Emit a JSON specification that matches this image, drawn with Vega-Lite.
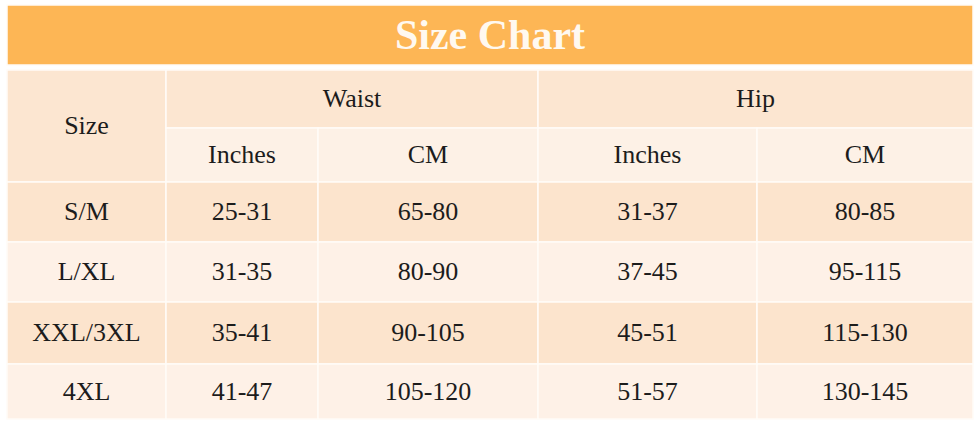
{
  "$schema": "https://vega.github.io/schema/vega-lite/v6.json",
  "width": 980,
  "height": 425,
  "autosize": {"type": "none"},
  "padding": 0,
  "background": "white",
  "config": {"view": {"stroke": null}},
  "data": {
    "values": [
      {"label": "Size Chart", "band": "title", "c0": 0, "c1": 5, "r0": 0, "r1": 1},
      {"label": "Size", "band": "header", "c0": 0, "c1": 1, "r0": 2, "r1": 4},
      {"label": "Waist", "band": "header", "c0": 1, "c1": 3, "r0": 2, "r1": 3},
      {"label": "Hip", "band": "header", "c0": 3, "c1": 5, "r0": 2, "r1": 3},
      {"label": "Inches", "band": "sub", "c0": 1, "c1": 2, "r0": 3, "r1": 4},
      {"label": "CM", "band": "sub", "c0": 2, "c1": 3, "r0": 3, "r1": 4},
      {"label": "Inches", "band": "sub", "c0": 3, "c1": 4, "r0": 3, "r1": 4},
      {"label": "CM", "band": "sub", "c0": 4, "c1": 5, "r0": 3, "r1": 4},
      {"label": "S/M", "band": "odd", "c0": 0, "c1": 1, "r0": 4, "r1": 5},
      {"label": "25-31", "band": "odd", "c0": 1, "c1": 2, "r0": 4, "r1": 5},
      {"label": "65-80", "band": "odd", "c0": 2, "c1": 3, "r0": 4, "r1": 5},
      {"label": "31-37", "band": "odd", "c0": 3, "c1": 4, "r0": 4, "r1": 5},
      {"label": "80-85", "band": "odd", "c0": 4, "c1": 5, "r0": 4, "r1": 5},
      {"label": "L/XL", "band": "even", "c0": 0, "c1": 1, "r0": 5, "r1": 6},
      {"label": "31-35", "band": "even", "c0": 1, "c1": 2, "r0": 5, "r1": 6},
      {"label": "80-90", "band": "even", "c0": 2, "c1": 3, "r0": 5, "r1": 6},
      {"label": "37-45", "band": "even", "c0": 3, "c1": 4, "r0": 5, "r1": 6},
      {"label": "95-115", "band": "even", "c0": 4, "c1": 5, "r0": 5, "r1": 6},
      {"label": "XXL/3XL", "band": "odd", "c0": 0, "c1": 1, "r0": 6, "r1": 7},
      {"label": "35-41", "band": "odd", "c0": 1, "c1": 2, "r0": 6, "r1": 7},
      {"label": "90-105", "band": "odd", "c0": 2, "c1": 3, "r0": 6, "r1": 7},
      {"label": "45-51", "band": "odd", "c0": 3, "c1": 4, "r0": 6, "r1": 7},
      {"label": "115-130", "band": "odd", "c0": 4, "c1": 5, "r0": 6, "r1": 7},
      {"label": "4XL", "band": "even", "c0": 0, "c1": 1, "r0": 7, "r1": 8},
      {"label": "41-47", "band": "even", "c0": 1, "c1": 2, "r0": 7, "r1": 8},
      {"label": "105-120", "band": "even", "c0": 2, "c1": 3, "r0": 7, "r1": 8},
      {"label": "51-57", "band": "even", "c0": 3, "c1": 4, "r0": 7, "r1": 8},
      {"label": "130-145", "band": "even", "c0": 4, "c1": 5, "r0": 7, "r1": 8}
    ]
  },
  "layer": [
    {
      "mark": {"type": "rect", "stroke": "#FFFCF8", "strokeWidth": 1.5},
      "encoding": {
        "x": {
          "field": "c0",
          "type": "quantitative",
          "axis": null,
          "scale": {"domain": [0, 1, 2, 3, 4, 5], "range": [7, 166, 318, 538, 757, 973], "nice": false, "zero": false}
        },
        "x2": {"field": "c1"},
        "y": {
          "field": "r0",
          "type": "quantitative",
          "axis": null,
          "scale": {"domain": [0, 1, 2, 3, 4, 5, 6, 7, 8], "range": [5, 65, 70, 128, 182, 242, 302, 364, 419], "nice": false, "zero": false}
        },
        "y2": {"field": "r1"},
        "color": {
          "field": "band",
          "type": "nominal",
          "legend": null,
          "scale": {
            "domain": ["title", "header", "sub", "odd", "even"],
            "range": ["#FDB655", "#FCE6D1", "#FDF1E6", "#FCE4CD", "#FEF1E7"]
          }
        }
      }
    },
    {
      "transform": [{"filter": "datum.band != 'title'"}],
      "mark": {
        "type": "text",
        "font": "'Liberation Serif', 'DejaVu Serif', serif",
        "fontSize": 26,
        "color": "#1c1c1c",
        "align": "center",
        "baseline": "middle",
        "x": {"expr": "(scale('x', datum.c0) + scale('x', datum.c1)) / 2"},
        "y": {"expr": "(scale('y', datum.r0) + scale('y', datum.r1)) / 2"}
      },
      "encoding": {"text": {"field": "label"}}
    },
    {
      "transform": [{"filter": "datum.band == 'title'"}],
      "mark": {
        "type": "text",
        "font": "'Liberation Serif', 'DejaVu Serif', serif",
        "fontSize": 42,
        "fontWeight": "bold",
        "color": "#FFF9F0",
        "align": "center",
        "baseline": "middle",
        "dy": 1,
        "x": {"expr": "(scale('x', datum.c0) + scale('x', datum.c1)) / 2"},
        "y": {"expr": "(scale('y', datum.r0) + scale('y', datum.r1)) / 2"}
      },
      "encoding": {"text": {"field": "label"}}
    }
  ]
}
